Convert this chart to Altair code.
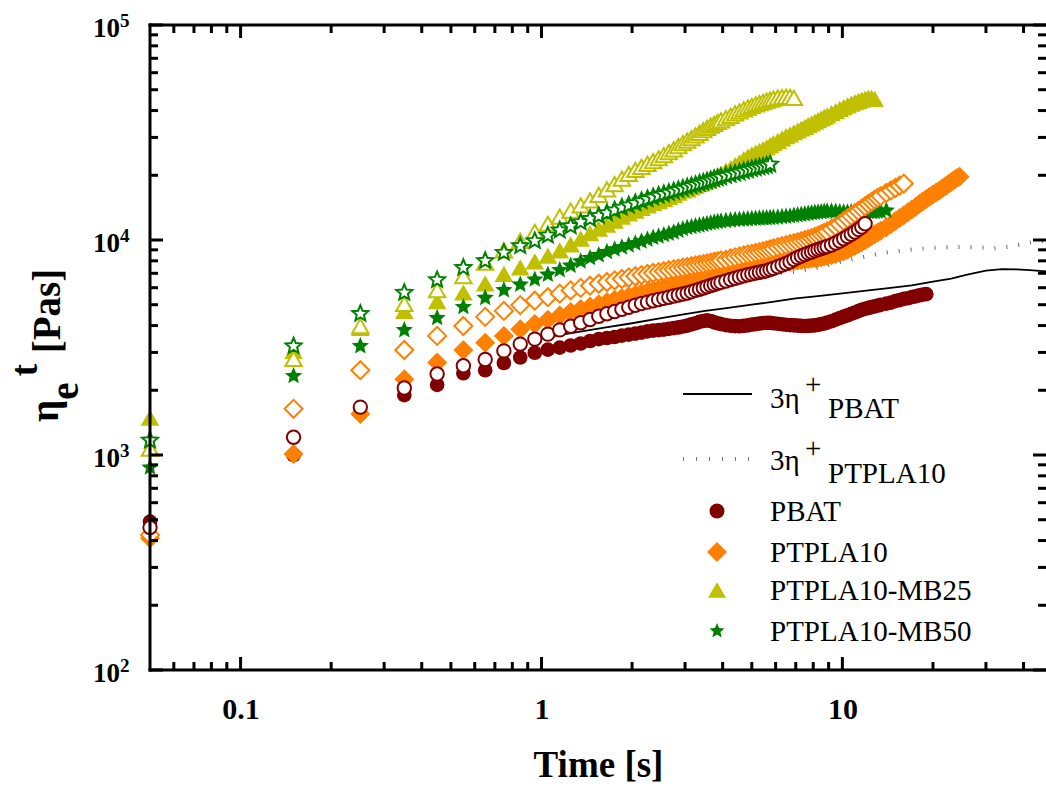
import altair as alt
import pandas as pd

# ---------------- data ----------------
T = [0.05, 0.15, 0.25, 0.35, 0.45, 0.55, 0.65, 0.75, 0.85, 0.95,
     1.05, 1.15, 1.25, 1.35, 1.45, 1.55, 1.65, 1.75, 1.85, 1.95,
     2.05, 2.15, 2.25, 2.35, 2.45, 2.55, 2.65, 2.75, 2.85, 2.95,
     3.05, 3.15, 3.25, 3.35, 3.45, 3.55, 3.65, 3.75, 3.85, 3.95,
     4.1, 4.25, 4.4, 4.55, 4.7, 4.85, 5.0, 5.15, 5.3, 5.45, 5.6, 5.75, 5.9,
     6.1, 6.3, 6.5, 6.7, 6.9, 7.1, 7.3, 7.5, 7.7, 7.9, 8.1, 8.3, 8.5, 8.7, 8.9,
     9.2, 9.5, 9.8, 10.1, 10.4, 10.7, 11.0, 11.3, 11.6, 11.9, 12.2, 12.5, 12.8, 13.1, 13.4,
     14.0, 14.5, 15.0, 15.5, 16.0, 16.5, 17.0, 17.5, 18.0, 18.5, 19.0, 19.5,
     20.0, 20.5, 21.0, 21.5, 22.0, 22.5, 23.0, 23.5, 24.0, 24.5]

PBAT_FILLED = [490, 1000, 1560, 1900, 2120, 2400, 2480, 2680, 2840, 2990,
               3090, 3160, 3230, 3300, 3390, 3460, 3500, 3540, 3590, 3630,
               3670, 3710, 3760, 3790, 3810, 3830, 3860, 3890, 3920, 3960,
               4000, 4050, 4100, 4160, 4200, 4230, 4200, 4140, 4100, 4060,
               4020, 3990, 3975, 3970, 3985, 4010, 4040, 4065, 4090, 4110, 4120, 4115, 4100,
               4080, 4055, 4035, 4020, 4005, 3995, 3985, 3980, 3985, 3995, 4010, 4030, 4060, 4090, 4130,
               4190, 4260, 4330, 4400, 4460, 4530, 4600, 4670, 4740, 4790, 4830, 4870, 4910, 4950, 4990,
               5060, 5110, 5200, 5250, 5320, 5360, 5420, 5470, 5530, 5570, 5600]

PBAT_OPEN = [460, 1210, 1670, 2050, 2380, 2600, 2780, 3050, 3280, 3460,
             3650, 3820, 3970, 4120, 4270, 4420, 4540, 4650, 4760, 4870,
             4970, 5070, 5140, 5220, 5290, 5350, 5420, 5490, 5550, 5610,
             5670, 5750, 5830, 5900, 5980, 6060, 6140, 6210, 6290, 6350,
             6450, 6550, 6640, 6730, 6810, 6890, 6960, 7020, 7080, 7140, 7200, 7290, 7380,
             7510, 7640, 7780, 7920, 8110, 8280, 8430, 8560, 8690, 8800, 8920, 9030, 9130, 9220, 9320,
             9480, 9680, 9890, 10130, 10380, 10630, 10900, 11200, 11500, 11900]

PTPLA10_FILLED = [410, 1010, 1550, 2250, 2690, 3080, 3330, 3580, 3850, 4070,
                  4260, 4450, 4620, 4770, 4900, 5020, 5150, 5270, 5380, 5480,
                  5570, 5660, 5750, 5830, 5910, 5980, 6050, 6130, 6200, 6280,
                  6340, 6410, 6480, 6540, 6610, 6670, 6730, 6790, 6850, 6900,
                  6980, 7060, 7140, 7210, 7280, 7350, 7390, 7440, 7500, 7550, 7600, 7650, 7700,
                  7760, 7820, 7880, 7930, 7980, 8030, 8080, 8120, 8160, 8200, 8240, 8280, 8320, 8370, 8420,
                  8500, 8600, 8720, 8860, 9020, 9200, 9380, 9570, 9770, 9980, 10200, 10420, 10640, 10850, 11050,
                  11450, 11850, 12250, 12650, 13050, 13450, 13850, 14250, 14700, 15100, 15500, 15900,
                  16300, 16650, 17000, 17400, 17800, 18200, 18600, 19000, 19400, 19700]

PTPLA10_OPEN = [425, 1640, 2480, 3080, 3580, 3980, 4390, 4680, 4980, 5220,
                5420, 5630, 5830, 5990, 6130, 6260, 6380, 6490, 6590, 6690,
                6780, 6870, 6950, 7020, 7090, 7160, 7230, 7300, 7360, 7430,
                7490, 7550, 7610, 7670, 7730, 7790, 7850, 7910, 7970, 8030,
                8090, 8200, 8300, 8390, 8480, 8570, 8620, 8700, 8780, 8860, 8950, 9040, 9130,
                9250, 9360, 9470, 9570, 9670, 9770, 9880, 9980, 10090, 10210, 10340, 10480, 10640, 10800, 10960,
                11250, 11550, 11850, 12250, 12600, 12950, 13300, 13650, 14000, 14350, 14700, 15050, 15400, 15700, 16000,
                16550, 17000, 17450, 17900, 18300]

MB25_FILLED = [1490, 3050, 3900, 4680, 5200, 5700, 6280, 6950, 7450, 7950,
               8450, 8950, 9550, 10150, 10750, 11300, 11800, 12300, 12850, 13300,
               13700, 14100, 14500, 14850, 15150, 15500, 15850, 16200, 16600, 17000,
               17200, 17550, 17900, 18250, 18600, 18950, 19300, 19650, 20000, 20350,
               21000, 21600, 22300, 23000, 23800, 24400, 25000, 25500, 26000, 26500, 27000, 27600, 28200,
               28900, 29700, 30400, 31000, 31700, 32300, 33000, 33600, 34300, 34900, 35500, 36100, 36800, 37400, 38000,
               38900, 39800, 40700, 41500, 42300, 43100, 43800, 44400, 45000, 45500, 45900, 45800, 45300]

MB25_OPEN = [1070, 2800, 3980, 5040, 5850, 6800, 7850, 8950, 9900, 10900,
             11900, 12850, 13700, 14500, 15300, 16200, 17200, 18200, 19300, 20300,
             21200, 21900, 22600, 23300, 24000, 24800, 25600, 26400, 27300, 28200,
             29000, 29800, 30700, 31500, 32400, 33200, 34000, 34700, 35400, 36000,
             36900, 37800, 38800, 39700, 40500, 41300, 42000, 42700, 43300, 43900, 44500, 45000, 45500,
             45900, 46200, 46400, 46300, 45800]

MB50_FILLED = [875, 2330, 3210, 3810, 4340, 4880, 5380, 5850, 6200, 6550,
               6900, 7250, 7600, 7950, 8250, 8500, 8800, 9050, 9250, 9450,
               9650, 9850, 10050, 10250, 10400, 10550, 10700, 10850, 11050, 11250,
               11400, 11500, 11600, 11700, 11800, 11900, 12000, 12080, 12150, 12220,
               12280, 12350, 12400, 12440, 12480, 12510, 12550, 12580, 12600, 12630, 12650, 12680, 12700,
               12750, 12800, 12850, 12900, 12980, 13050, 13130, 13200, 13270, 13350, 13400, 13450, 13500, 13550, 13580,
               13600, 13550, 13500, 13460, 13450, 13470, 13500, 13550, 13600, 13580, 13550, 13520, 13500, 13550, 13600,
               13700]

MB50_OPEN = [1170, 3210, 4540, 5690, 6520, 7430, 8000, 8730, 9380, 9900,
             10500, 11100, 11600, 12100, 12550, 12950, 13350, 13750, 14150, 14500,
             14850, 15180, 15500, 15800, 16100, 16350, 16600, 16850, 17100, 17350,
             17600, 17850, 18050, 18300, 18500, 18750, 18950, 19200, 19400, 19600,
             19900, 20150, 20400, 20650, 20900, 21150, 21400, 21600, 21800, 22000, 22200, 22500]

LINE_PBAT_T = [1.0, 1.3, 1.6, 2.0, 2.5, 3.0, 3.5, 4.0, 5.0, 6.0, 7.0, 8.0,
               10.0, 12.0, 14.0, 17.0, 20.0, 23.0, 26.0, 30.0, 34.0, 38.0, 42.0, 47.5]
LINE_PBAT_V = [3500, 3720, 3900, 4100, 4330, 4520, 4680, 4800, 5000, 5180, 5350, 5450,
               5650, 5820, 5950, 6150, 6400, 6620, 6900, 7200, 7320, 7300, 7250, 7150]

LINE_PTPLA10_T = [1.45, 1.65, 2.2, 3.0, 4.0, 5.0, 6.0, 7.0, 8.0, 9.0, 10.0, 12.0,
                  14.0, 16.0, 18.0, 20.0, 24.0, 28.0, 32.0, 36.0, 40.0, 44.0, 47.5]
LINE_PTPLA10_V = [5750, 6000, 6300, 6600, 6800, 6950, 7000, 7100, 7350, 7650, 7950, 8400,
                  8750, 8950, 9100, 9200, 9270, 9250, 9150, 9300, 9600, 9850, 9900]

X_LABEL_VALUES = [0.1, 1, 10]
X_MINOR = [0.06, 0.07, 0.08, 0.09, 0.2, 0.3, 0.4, 0.5, 0.6, 0.7, 0.8, 0.9,
           2, 3, 4, 5, 6, 7, 8, 9, 20, 30, 40]
Y_MAJOR = [100, 1000, 10000, 100000]
Y_EXP = ["2", "3", "4", "5"]
Y_MINOR = [200, 300, 400, 500, 600, 700, 800, 900,
           2000, 3000, 4000, 5000, 6000, 7000, 8000, 9000,
           20000, 30000, 40000, 50000, 60000, 70000, 80000, 90000]

LEGEND_NAMES = ["PBAT", "PTPLA10", "PTPLA10-MB25", "PTPLA10-MB50"]

# ---------------- styling ----------------
W, H = 896, 645
FONT = "Liberation Serif"
DARKRED = "#800000"
ORANGE = "#ff8000"
OLIVE = "#c0c000"
GREEN = "#008000"
STAR = ("M0,-1L0.2645,-0.3641L0.9511,-0.309L0.428,0.1391L0.5878,0.809L0,0.45"
        "L-0.5878,0.809L-0.428,0.1391L-0.9511,-0.309L-0.2645,-0.3641Z")

xs = alt.Scale(type="log", domain=[0.05, 47.5], nice=False)
ys = alt.Scale(type="log", domain=[100, 100000], nice=False)
xaxis = alt.Axis(values=X_LABEL_VALUES, format="~g", ticks=False, tickSize=0,
                 domain=False, grid=False, labelFont=FONT, labelFontSize=30,
                 labelFontWeight="bold", labelColor="black", labelPadding=24,
                 labelFlush=False, labelOverlap=False,
                 title="Time [s]", titleFont=FONT, titleFontSize=37,
                 titleFontWeight="bold", titleColor="black", titleX=W / 2,
                 titleY=106, titleBaseline="alphabetic", titleAlign="center")


def X(field):
    return alt.X(f"{field}:Q", scale=xs, axis=xaxis)


def Y(field):
    return alt.Y(f"{field}:Q", scale=ys, axis=None)


ONE = pd.DataFrame({"a": [0]})


def series(vals, shape, color, size, hollow):
    df = pd.DataFrame({"t": T[:len(vals)], "v": vals})
    if hollow:
        m = alt.Chart(df).mark_point(shape=shape, filled=True, fill="white",
                                     stroke=color, strokeWidth=2, size=size, opacity=1)
    else:
        m = alt.Chart(df).mark_point(shape=shape, filled=True, fill=color,
                                     strokeWidth=0, size=size, opacity=1)
    return m.encode(x=X("t"), y=Y("v"))


def txt(text, x, y, size=29, weight="normal", align="left", baseline="alphabetic", angle=0):
    kw = dict(text=text, font=FONT, fontSize=size, fontWeight=weight, align=align,
              baseline=baseline, color="black")
    if angle:
        kw["angle"] = angle
    return alt.Chart(ONE).mark_text(**kw).encode(x=alt.value(x), y=alt.value(y))


layers = []

# model lines
layers.append(alt.Chart(pd.DataFrame({"t": LINE_PTPLA10_T, "v": LINE_PTPLA10_V}))
              .mark_line(color="#666666", strokeWidth=4, strokeDash=[1, 11], strokeCap="butt")
              .encode(x=X("t"), y=Y("v")))
layers.append(alt.Chart(pd.DataFrame({"t": LINE_PBAT_T, "v": LINE_PBAT_V}))
              .mark_line(color="black", strokeWidth=1.8)
              .encode(x=X("t"), y=Y("v")))

# measured series (draw order as in reference)
layers.append(series(PBAT_FILLED, "circle", DARKRED, 215, False))
layers.append(series(PTPLA10_FILLED, "diamond", ORANGE, 400, False))
layers.append(series(MB25_FILLED, "triangle-up", OLIVE, 350, False))
layers.append(series(MB50_FILLED, STAR, GREEN, 330, False))
layers.append(series(PTPLA10_OPEN, "diamond", ORANGE, 324, True))
layers.append(series(PBAT_OPEN, "circle", DARKRED, 180, True))
layers.append(series(MB25_OPEN, "triangle-up", OLIVE, 270, True))
layers.append(series(MB50_OPEN, STAR, GREEN, 280, True))

# frame (left, top, bottom)
rule_kw = dict(color="black", strokeWidth=3, strokeCap="square")
layers.append(alt.Chart(ONE).mark_rule(**rule_kw).encode(
    x=alt.value(0), y=alt.value(0), y2=alt.value(H)))
layers.append(alt.Chart(ONE).mark_rule(**rule_kw).encode(
    x=alt.value(0), x2=alt.value(W + 2), y=alt.value(0)))
layers.append(alt.Chart(ONE).mark_rule(**rule_kw).encode(
    x=alt.value(0), x2=alt.value(W + 2), y=alt.value(H)))

# inward ticks
tick_kw = dict(color="black", strokeWidth=3)
for vals, ln in ((X_LABEL_VALUES, 13), (X_MINOR, 8)):
    d = pd.DataFrame({"val": vals})
    layers.append(alt.Chart(d).mark_rule(**tick_kw).encode(
        x=X("val"), y=alt.value(H), y2=alt.value(H - ln)))
    layers.append(alt.Chart(d).mark_rule(**tick_kw).encode(
        x=X("val"), y=alt.value(0), y2=alt.value(ln)))
for vals, ln in ((Y_MAJOR, 13), (Y_MINOR, 8)):
    d = pd.DataFrame({"val": vals})
    layers.append(alt.Chart(d).mark_rule(**tick_kw).encode(
        y=Y("val"), x=alt.value(0), x2=alt.value(ln)))
    layers.append(alt.Chart(d).mark_rule(**tick_kw).encode(
        y=Y("val"), x=alt.value(W), x2=alt.value(W - ln)))

# y tick labels 10^n
ylab = pd.DataFrame({"val": Y_MAJOR, "e": Y_EXP})
layers.append(alt.Chart(ylab).mark_text(text="10", font=FONT, fontSize=27, fontWeight="bold",
                                        align="right", baseline="alphabetic", dy=12, color="black")
              .encode(y=Y("val"), x=alt.value(-30)))
layers.append(alt.Chart(ylab).mark_text(font=FONT, fontSize=19, fontWeight="bold",
                                        align="left", baseline="alphabetic", dy=2, color="black")
              .encode(y=Y("val"), x=alt.value(-30), text="e:N"))

# y axis title: eta_e^t [Pas], rotated
layers.append(txt("η", -92, 386, size=39, weight="bold", align="center", angle=270))
layers.append(txt("e", -72, 366, size=39, weight="bold", align="center", angle=270))
layers.append(txt("t", -113, 345, size=37, weight="bold", align="center", angle=270))
layers.append(txt("[Pas]", -90, 286, size=39, weight="bold", align="center", angle=270))

# legend
layers.append(alt.Chart(ONE).mark_rule(color="black", strokeWidth=2).encode(
    x=alt.value(533), x2=alt.value(602), y=alt.value(369)))
layers.append(txt("3η", 620, 383))
layers.append(txt("+", 655, 369))
layers.append(txt("PBAT", 678, 393))
layers.append(alt.Chart(ONE).mark_rule(color="#777777", strokeWidth=4, strokeDash=[1, 12]).encode(
    x=alt.value(533), x2=alt.value(602), y=alt.value(434)))
layers.append(txt("3η", 620, 445))
layers.append(txt("+", 655, 433))
layers.append(txt("PTPLA10", 678, 458))

leg_specs = [("circle", DARKRED, 225, 486), ("diamond", ORANGE, 400, 527),
             ("triangle-up", OLIVE, 324, 565), (STAR, GREEN, 250, 606)]
for name, (shape, color, size, yy) in zip(LEGEND_NAMES, leg_specs):
    layers.append(alt.Chart(ONE).mark_point(shape=shape, filled=True, fill=color, strokeWidth=0,
                                            size=size, opacity=1)
                  .encode(x=alt.value(567), y=alt.value(yy)))
    layers.append(txt(name, 620, yy + 1, baseline="middle"))

chart = (alt.layer(*layers)
         .properties(width=W, height=H,
                     padding={"left": 150, "top": 25, "right": 0, "bottom": 117},
                     autosize=alt.AutoSizeParams(type="none"),
                     background="white")
         .configure_view(stroke=None))

chart.save("out.html", embed_options={"renderer": "svg", "actions": False})
